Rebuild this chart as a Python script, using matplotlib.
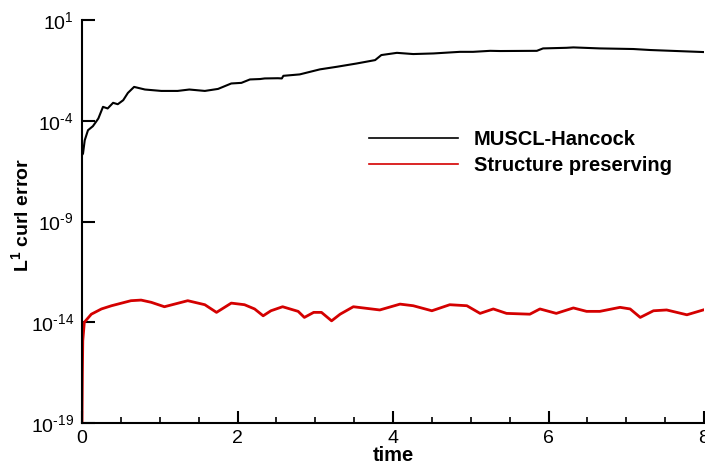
import numpy as np
import matplotlib
matplotlib.use("Agg")
import matplotlib.pyplot as plt
from matplotlib.ticker import FixedLocator, NullLocator, MultipleLocator

plt.rcParams["font.family"] = ["Liberation Sans", "DejaVu Sans"]
plt.rcParams["mathtext.fontset"] = "custom"
plt.rcParams["mathtext.rm"] = "Liberation Sans"
plt.rcParams["mathtext.it"] = "Liberation Sans:italic"
plt.rcParams["mathtext.bf"] = "Liberation Sans:bold"

# MUSCL-Hancock: time and log10 of the L1 curl error
muscl_t = [0.0, 0.013, 0.035, 0.077, 0.14, 0.21, 0.27, 0.33, 0.40, 0.46, 0.53,
           0.59, 0.67, 0.81, 1.02, 1.23, 1.38, 1.58, 1.75, 1.92, 2.05, 2.16,
           2.29, 2.35, 2.52, 2.57, 2.59, 2.80, 3.06, 3.28, 3.53, 3.77, 3.85,
           4.05, 4.26, 4.52, 4.86, 5.03, 5.25, 5.38, 5.85, 5.93, 6.23, 6.32,
           6.66, 7.09, 7.31, 7.99]
muscl_log = [-5.7, -5.63, -4.97, -4.47, -4.27, -3.89, -3.31, -3.39, -3.11, -3.18,
             -2.98, -2.62, -2.32, -2.45, -2.52, -2.52, -2.45, -2.52, -2.42, -2.15,
             -2.12, -1.95, -1.93, -1.90, -1.89, -1.90, -1.77, -1.70, -1.45, -1.32,
             -1.16, -0.99, -0.74, -0.63, -0.69, -0.66, -0.58, -0.58, -0.53, -0.54,
             -0.53, -0.41, -0.38, -0.36, -0.41, -0.44, -0.49, -0.59]

# Structure preserving: time and log10 of the L1 curl error
sp_t = [0.0, 0.005, 0.01, 0.03, 0.12, 0.25, 0.38, 0.63, 0.76, 0.89, 1.06, 1.19,
        1.36, 1.58, 1.73, 1.92, 2.09, 2.22, 2.33, 2.43, 2.58, 2.78, 2.86, 2.98,
        3.08, 3.21, 3.32, 3.49, 3.83, 4.09, 4.26, 4.50, 4.73, 4.95, 5.12, 5.29,
        5.46, 5.76, 5.89, 6.10, 6.32, 6.49, 6.66, 6.92, 7.05, 7.18, 7.35, 7.52,
        7.78, 7.99]
sp_log = [-19.0, -16.5, -14.92, -14.0, -13.6, -13.34, -13.18, -12.93, -12.9,
          -13.01, -13.23, -13.1, -12.93, -13.13, -13.51, -13.05, -13.13, -13.34,
          -13.68, -13.43, -13.23, -13.46, -13.76, -13.51, -13.51, -13.93, -13.6,
          -13.23, -13.39, -13.1, -13.18, -13.43, -13.13, -13.18, -13.56, -13.34,
          -13.56, -13.6, -13.34, -13.56, -13.29, -13.46, -13.46, -13.26, -13.34,
          -13.76, -13.43, -13.39, -13.63, -13.39]

y_ticks = [1e-19, 1e-14, 1e-9, 1e-4, 1e1]
y_tick_labels = ["$\\mathregular{10^{\u201019}}$", "$\\mathregular{10^{\u201014}}$",
                 "$\\mathregular{10^{\u20109}}$", "$\\mathregular{10^{\u20104}}$",
                 "$\\mathregular{10^{1}}$"]
x_ticks = [0, 2, 4, 6, 8]

fig = plt.figure(figsize=(7.05, 4.66), dpi=100)
ax = fig.add_axes([82 / 705, 43 / 466, 622 / 705, 403 / 466])

l1, = ax.plot(muscl_t, 10.0 ** np.array(muscl_log), color="black", lw=1.5,
              label="MUSCL-Hancock")
l2, = ax.plot(sp_t, 10.0 ** np.array(sp_log), color="#d40000", lw=2.0,
              label="Structure preserving")

ax.set_yscale("log")
ax.set_xlim(0, 8)
ax.set_ylim(1e-19, 1e1)
ax.yaxis.set_major_locator(FixedLocator(y_ticks))
ax.yaxis.set_minor_locator(NullLocator())
ax.set_yticklabels(y_tick_labels)
ax.xaxis.set_major_locator(FixedLocator(x_ticks))
ax.xaxis.set_minor_locator(MultipleLocator(0.5))

for s in ("top", "right"):
    ax.spines[s].set_visible(False)
for s in ("left", "bottom"):
    ax.spines[s].set_linewidth(1.5)

ax.tick_params(which="major", direction="in", length=9, width=1.5,
               labelsize=14, pad=6)
ax.tick_params(which="minor", direction="in", length=4.5, width=1.2)
ax.tick_params(axis="x", which="major", pad=5)

ax.set_xlabel("time", fontsize=14.5, fontweight="bold", labelpad=-1)
ax.set_ylabel(r"L$^{\mathregular{1}}$ curl error", fontsize=14,
              fontweight="bold")
ax.yaxis.set_label_coords(-0.080, 0.515)

leg = ax.legend(handles=[l1, l2], loc="upper left",
                bbox_to_anchor=(369 / 705, 1 - 130 / 466),
                bbox_transform=fig.transFigure, frameon=False,
                prop={"weight": "bold", "size": 14.5},
                handlelength=4.4, handletextpad=0.8, labelspacing=0.33,
                borderpad=0, borderaxespad=0)
for ln in leg.get_lines():
    ln.set_linewidth(1.2)

fig.savefig("out.png", dpi=100)
